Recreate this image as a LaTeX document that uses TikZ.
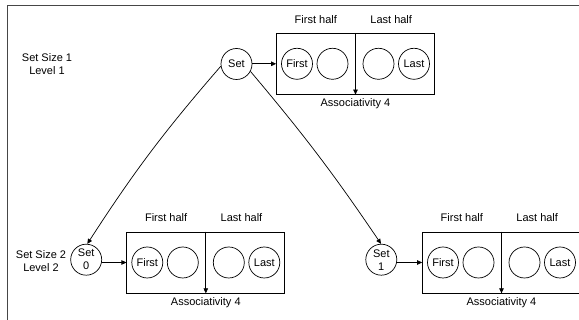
\documentclass[tikz,border=0pt]{standalone}
\usepackage{fontspec}
\setmainfont{Liberation Sans}
\usetikzlibrary{arrows.meta,positioning,calc}

\tikzset{
  elem/.style={circle,draw,minimum size=31pt,inner sep=0pt},
  setnode/.style={elem,align=center,font=\fontsize{11}{13}\selectfont},
  waybox/.style={draw,minimum width=158pt,minimum height=61pt,inner sep=0pt},
  tip/.style={-{Triangle[length=5pt,width=4.5pt]}},
}

\begin{document}
\begin{tikzpicture}[x=1pt,y=1pt,font=\fontsize{11}{12.5}\selectfont,line width=0.7pt]
  \clip (0,0) rectangle (579,320);
  % frame
  \draw[gray!55!black,line width=1.6pt] (7.5,0) |- (579,314.5);

  % set nodes
  \node[setnode] (set) at (236.5,256) {Set};
  \node[setnode] (set0) at (86.2,60.3) {Set\\0};
  \node[setnode] (set1) at (381.3,60.3) {Set\\1};

  \node[align=center] (lvl1) at (47,256) {Set Size 1\\Level 1};
  \node[align=center] (lvl2) at (41,59) {Set Size 2\\Level 2};

  % ways of each set
  \foreach \b/\s/\x/\y in {top/set/355.5/256.2, l/set0/205.8/57.5, r/set1/501.5/57.5} {
    \node[waybox] (\b) at (\x,\y) {};
    \node[elem] (\b-a) at ($(\b)+(-58.5,0)$) {First};
    \node[elem] (\b-b) at ($(\b)+(-23,0)$) {};
    \node[elem] (\b-c) at ($(\b)+(23,0)$) {};
    \node[elem] (\b-d) at ($(\b)+(58.5,0)$) {Last};
    \node[above=6pt of $(\b.north)!0.5!(\b.north west)$] (\b-fh) {First half};
    \node[above=6pt of $(\b.north)!0.45!(\b.north east)$] (\b-lh) {Last half};
    \node[below=0.5pt of \b.south] (\b-as) {Associativity 4};
    \draw[tip] (\b.north) -- (\b.south);
    \draw[tip] (\s.east |- \b.west) -- (\b.west);
  }

  % to level 2
  \draw[tip] (set.188) to[bend right=4] (set0.86);
  \draw[tip] (set.332) to[bend left=3] (set1.91);
\end{tikzpicture}
\end{document}
